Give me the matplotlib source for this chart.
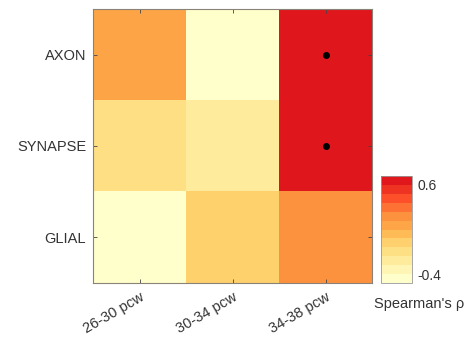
import numpy as np
import matplotlib.pyplot as plt
from matplotlib.colors import ListedColormap, BoundaryNorm

plt.rcParams['font.family'] = ['Liberation Sans', 'DejaVu Sans']

# correlation of gene-set expression with age window
stages = ['26-30 pcw', '30-34 pcw', '34-38 pcw']
gene_sets = ['AXON', 'SYNAPSE', 'GLIAL']
rho_axon = [0.15, -0.42, 0.62]
rho_synapse = [-0.15, -0.30, 0.62]
rho_glial = [-0.45, -0.10, 0.22]
significant = [(0, 2), (1, 2)]  # (row, col)

rho = np.array([rho_axon, rho_synapse, rho_glial])

# discrete yellow-orange-red scale, 12 steps of 0.1
n_levels = 12
base = plt.get_cmap('YlOrRd')
cmap = ListedColormap(base(np.linspace(0.0, 0.76, n_levels)))
bounds = np.linspace(-0.5, 0.7, n_levels + 1)
norm = BoundaryNorm(bounds, cmap.N)

fig = plt.figure(figsize=(4.68, 3.48), dpi=100)
ax = fig.add_axes([0.199, 0.187, 0.596, 0.787])
cax = fig.add_axes([0.814, 0.187, 0.066, 0.307])

im = ax.imshow(rho, cmap=cmap, norm=norm, aspect='auto')
for r, c in significant:
    ax.plot(c, r, 'o', color='black', markersize=4)

text_color = '#333333'
ax.set_xticks(range(len(stages)))
ax.set_xticklabels(stages, rotation=30, ha='right', rotation_mode='anchor',
                   color=text_color, fontsize=10.5)
ax.set_yticks(range(len(gene_sets)))
ax.set_yticklabels(gene_sets, color=text_color, fontsize=10.5)
ax.tick_params(direction='in', length=3, width=0.6, color='#444444',
               top=True, right=True, pad=5)
for s in ax.spines.values():
    s.set_color('#8a8178')
    s.set_linewidth(0.8)

cb = fig.colorbar(im, cax=cax, ticks=[-0.4, 0.6])
cb.ax.minorticks_off()
cb.ax.set_yticklabels(['-0.4', '0.6'], color=text_color, fontsize=10)
cb.ax.tick_params(length=0, pad=4)
cb.outline.set_edgecolor('#999999')
cb.outline.set_linewidth(0.6)
fig.text(0.800, 0.127, "Spearman's \u03c1", fontsize=10.5, color=text_color,
         ha='left', va='center')

fig.savefig('out.png', dpi=100)
